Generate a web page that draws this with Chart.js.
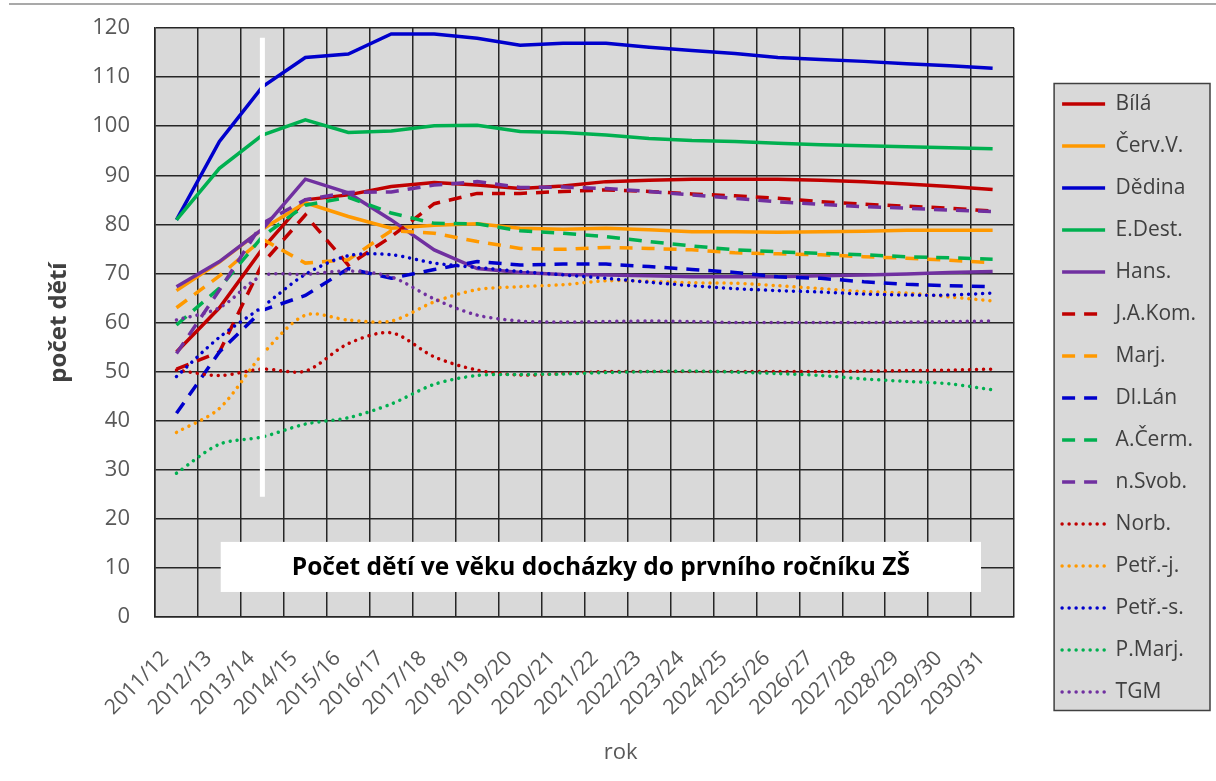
<!DOCTYPE html>
<html>
<head>
<meta charset="utf-8">
<script src="https://cdn.jsdelivr.net/npm/chart.js@4/dist/chart.umd.min.js"></script>
<style>
  html, body { margin: 0; padding: 0; background: #fff; }
  #wrap { width: 1216px; height: 781px; }
</style>
</head>
<body>
<div id="wrap"><canvas id="kidsChart" width="1216" height="781"></canvas></div>
<script>
// school years
const labels = ['2011/12', '2012/13', '2013/14', '2014/15', '2015/16', '2016/17', '2017/18',
  '2018/19', '2019/20', '2020/21', '2021/22', '2022/23', '2023/24', '2024/25', '2025/26',
  '2026/27', '2027/28', '2028/29', '2029/30', '2030/31'];

// number of children per school district
const bila   = [54, 63, 75, 85.0, 86.0, 87.7, 88.5, 88.0, 87.3, 87.8, 88.7, 89.0, 89.2, 89.2, 89.2, 89.0, 88.7, 88.2, 87.7, 87.1];
const cervV  = [66.5, 72.3, 79, 84.4, 81.6, 79.2, 79.8, 80.1, 79.2, 79.0, 79.2, 78.9, 78.5, 78.5, 78.4, 78.5, 78.6, 78.8, 78.8, 78.8];
const dedina = [80.9, 96.9, 108.0, 114.0, 114.7, 118.8, 118.8, 117.9, 116.5, 116.9, 116.9, 116.1, 115.4, 114.8, 114.0, 113.6, 113.2, 112.7, 112.3, 111.8];
const eDest  = [80.9, 91.4, 98.2, 101.3, 98.7, 99.0, 100.1, 100.2, 98.9, 98.7, 98.2, 97.5, 97.1, 96.9, 96.5, 96.2, 96.0, 95.8, 95.6, 95.4];
const hans   = [67.3, 72.4, 79, 89.2, 86.4, 80.9, 74.8, 71.0, 70.2, 69.8, 69.7, 69.5, 69.3, 69.3, 69.3, 69.5, 69.7, 69.9, 70.2, 70.4];
const jaKom  = [50.5, 54, 72, 81.9, 71.7, 77.5, 84.2, 86.3, 86.3, 86.7, 87.0, 86.7, 86.2, 85.8, 85.3, 84.6, 84.1, 83.7, 83.3, 82.7];
const marj   = [63, 69.5, 77, 72.1, 72.8, 78.7, 78.2, 76.5, 75.1, 74.9, 75.3, 75.1, 74.8, 74.2, 74.0, 73.8, 73.4, 73.1, 72.7, 72.2];
const dlLan  = [41.5, 54, 62.5, 65.5, 71.0, 69.0, 70.8, 72.4, 71.7, 71.9, 71.9, 71.4, 70.8, 70.2, 69.3, 69.0, 68.3, 67.8, 67.5, 67.3];
const aCerm  = [59.5, 67, 77.5, 83.9, 85.5, 82.3, 80.2, 80.1, 78.7, 78.2, 77.5, 76.5, 75.6, 74.8, 74.4, 74.1, 73.8, 73.4, 73.2, 72.9];
const nSvob  = [53.7, 66.6, 80.2, 85, 86.5, 86.6, 88.0, 88.7, 87.5, 87.6, 87.3, 86.7, 86.0, 85.3, 84.6, 84.1, 83.6, 83.3, 82.9, 82.6];
const norb   = [50.3, 49.2, 50.5, 50.1, 55.7, 57.9, 53.0, 50.3, 49.3, 49.6, 50.0, 50.0, 50.0, 50.0, 50.0, 50.0, 50.1, 50.2, 50.3, 50.5];
const petrJ  = [37.6, 42.5, 53.5, 61.5, 60.5, 60.3, 64.2, 66.7, 67.3, 67.7, 68.5, 68.4, 68.1, 68.0, 67.5, 66.9, 66.3, 66.0, 65.2, 64.4];
const petrS  = [49.0, 57.0, 63.2, 69.8, 73.6, 73.8, 72.1, 71.2, 70.4, 69.7, 69.0, 68.2, 67.5, 66.9, 66.5, 66.2, 65.8, 65.6, 65.6, 66.0];
const pMarj  = [29.3, 35.2, 36.7, 39.3, 40.6, 43.4, 47.4, 49.2, 49.4, 49.5, 49.8, 50.0, 50.1, 49.9, 49.6, 49.2, 48.5, 48.0, 47.5, 46.3];
const tgm    = [60.5, 63, 69.5, 69.8, 70.5, 69.3, 64.8, 61.5, 60.3, 60.1, 60.2, 60.3, 60.2, 60.0, 60.0, 60.0, 60.0, 60.1, 60.2, 60.3];

const names = ['Bílá', 'Červ.V.', 'Dědina', 'E.Dest.', 'Hans.', 'J.A.Kom.', 'Marj.', 'Dl.Lán',
  'A.Čerm.', 'n.Svob.', 'Norb.', 'Petř.-j.', 'Petř.-s.', 'P.Marj.', 'TGM'];
const series = [bila, cervV, dedina, eDest, hans, jaKom, marj, dlLan, aCerm, nSvob, norb, petrJ, petrS, pMarj, tgm];

const yTicks = [0, 10, 20, 30, 40, 50, 60, 70, 80, 90, 100, 110, 120];

const RED = '#c00000', ORANGE = '#ff9900', BLUE = '#0000cc', GREEN = '#00b050', PURPLE = '#7030a0';
const colors = [RED, ORANGE, BLUE, GREEN, PURPLE, RED, ORANGE, BLUE, GREEN, PURPLE, RED, ORANGE, BLUE, GREEN, PURPLE];

function styleFor(i) {
  if (i < 5) return { borderWidth: 3.5, borderDash: [], borderCapStyle: 'butt', tension: 0 };
  if (i < 10) return { borderWidth: 3.5, borderDash: [13, 9], borderCapStyle: 'butt', tension: 0 };
  return { borderWidth: 3.5, borderDash: [0.01, 7], borderCapStyle: 'round', tension: 0.3 };
}

const datasets = series.map((vals, i) => Object.assign({
  label: names[i],
  data: vals,
  borderColor: colors[i],
  backgroundColor: colors[i],
  pointRadius: 0,
  fill: false,
  order: series.length - i   // later series on top, like the original
}, styleFor(i)));

const GRID = '#262626';

// scales must not ask the layout for extra room
function noPad(s) {
  s.paddingTop = 0; s.paddingBottom = 0;
  s.paddingLeft = 0; s.paddingRight = 0;
}

// grey plot area and legend frame
const plotBg = {
  id: 'plotBg',
  beforeDraw(chart) {
    const { ctx, chartArea: a } = chart;
    ctx.save();
    ctx.fillStyle = '#d9d9d9';
    ctx.fillRect(a.left, a.top, a.right - a.left, a.bottom - a.top);

    const hb = chart.legend.legendHitBoxes;
    if (hb && hb.length) {
      const first = hb[0], last = hb[hb.length - 1];
      const l = first.left - 8, t = first.top - 10;
      const r = chart.width - 6, b = last.top + last.height + 8;
      ctx.fillRect(l, t, r - l, b - t);
      ctx.strokeStyle = '#404040';
      ctx.lineWidth = 1.5;
      ctx.strokeRect(l, t, r - l, b - t);
    }
    // outer frame line at the top
    ctx.strokeStyle = '#8c8c8c';
    ctx.lineWidth = 1.5;
    ctx.beginPath();
    ctx.moveTo(9, 4);
    ctx.lineTo(chart.width, 4);
    ctx.stroke();
    ctx.restore();
  }
};

// white marker line, caption box and the x axis title
const extras = {
  id: 'extras',
  afterDatasetsDraw(chart) {
    const { ctx, chartArea: a, scales: { x, y } } = chart;
    ctx.save();
    const mx = x.getPixelForValue(2);
    ctx.strokeStyle = '#ffffff';
    ctx.lineWidth = 5;
    ctx.beginPath();
    ctx.moveTo(mx, y.getPixelForValue(118));
    ctx.lineTo(mx, y.getPixelForValue(24.5));
    ctx.stroke();

    const bl = x.getPixelForValue(1.03), br = x.getPixelForValue(18.73);
    const bt = y.getPixelForValue(15.3), bb = y.getPixelForValue(5.1);
    ctx.fillStyle = '#ffffff';
    ctx.fillRect(bl, bt, br - bl, bb - bt);
    ctx.fillStyle = '#000000';
    ctx.font = 'bold 24.5px "Open Sans"';
    ctx.textAlign = 'center';
    ctx.textBaseline = 'middle';
    ctx.fillText('Počet dětí ve věku docházky do prvního ročníku ZŠ', (bl + br) / 2, (bt + bb) / 2 + 1);

    ctx.fillStyle = '#595959';
    ctx.font = '22px "Open Sans"';
    ctx.fillText('rok', a.left + 0.542 * (a.right - a.left), 753);
    ctx.restore();
  }
};

Chart.defaults.font.family = '"Open Sans", sans-serif';

const legendLabels = Chart.defaults.plugins.legend.labels.generateLabels;

const ctx = document.getElementById('kidsChart').getContext('2d');
const chart = new Chart(ctx, {
  type: 'line',
  data: { labels: labels, datasets: datasets },
  plugins: [plotBg, extras],
  options: {
    responsive: false,
    animation: false,
    layout: { padding: { left: 35, top: 15, right: 10, bottom: 0 } },
    plugins: {
      tooltip: { enabled: false },
      legend: {
        position: 'right',
        labels: {
          color: '#404040',
          font: { size: 21 },
          usePointStyle: true,
          pointStyle: 'line',
          pointStyleWidth: 43,
          padding: 21,
          sort: (a, b) => a.datasetIndex - b.datasetIndex,
          generateLabels(c) {
            const items = legendLabels(c);
            items.forEach(it => {
              const ds = c.data.datasets[it.datasetIndex];
              it.lineDash = ds.borderDash;
              it.lineCap = ds.borderCapStyle;
              it.lineWidth = ds.borderWidth;
              it.strokeStyle = ds.borderColor;
            });
            return items;
          }
        }
      }
    },
    scales: {
      x: {
        offset: true,
        grid: { offset: true, color: GRID, lineWidth: 1.5, drawTicks: false },
        border: { color: GRID, width: 1.5 },
        ticks: { autoSkip: false, minRotation: 45, maxRotation: 45, color: '#595959', font: { size: 21 }, padding: 29, labelOffset: -11 },
        afterFit(s) { s.height = 164; noPad(s); }
      },
      y: {
        min: 0,
        max: 120,
        afterBuildTicks(s) { s.ticks = yTicks.map(v => ({ value: v })); },
        grid: { color: GRID, lineWidth: 1.5, drawTicks: false },
        border: { color: GRID, width: 1.5 },
        ticks: { color: '#595959', font: { size: 22 }, padding: 25 },
        title: { display: true, text: 'počet dětí', color: '#404040', font: { size: 24, weight: 'bold' }, padding: { top: 10 } },
        afterFit(s) { s.width = 120; noPad(s); }
      },
      gapTop: {
        type: 'category', position: 'top', display: true,
        grid: { display: false, drawTicks: false }, border: { display: false }, ticks: { display: false },
        afterFit(s) { s.height = 13; noPad(s); }
      },
      gapRight: {
        type: 'linear', position: 'right', display: true,
        grid: { display: false, drawTicks: false }, border: { display: false }, ticks: { display: false },
        afterFit(s) { s.width = 27; noPad(s); }
      }
    }
  }
});
</script>
</body>
</html>
